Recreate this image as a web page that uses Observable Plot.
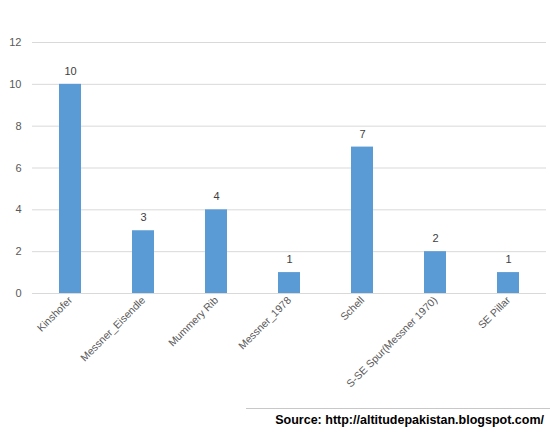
<!DOCTYPE html>
<html><head><meta charset="utf-8">
<script src="https://cdn.jsdelivr.net/npm/d3@7"></script>
<script src="https://cdn.jsdelivr.net/npm/@observablehq/plot@0.6"></script>
<style>
body{margin:0;background:#fff;font-family:"Liberation Sans",Arial,sans-serif;}
#src{position:absolute;left:246px;top:408px;width:304px;border-top:1px solid #c8c8c8;}
#src span{position:absolute;right:6px;top:4px;font-weight:bold;font-size:12.5px;color:#000;white-space:nowrap;}
</style></head>
<body>
<div id="chart"></div>
<div id="src"><span>Source: http://altitudepakistan.blogspot.com/</span></div>
<script>
const routes = ["Kinshofer","Messner_Eisendle","Mummery Rib","Messner_1978","Schell","S-SE Spur(Messner 1970)","SE Pillar"];
const counts = [10,3,4,1,7,2,1];
const yTicks = [0,2,4,6,8,10,12];
const data = routes.map((r,i)=>({route:r,count:counts[i]}));
const chart = Plot.plot({
  width:550, height:400,
  marginLeft:32, marginRight:4, marginTop:42, marginBottom:107,
  style:{fontFamily:"'Liberation Sans',Arial,sans-serif", fontSize:"10px", color:"#595959"},
  x:{domain:routes, paddingInner:0.7, paddingOuter:0.35, label:null},
  y:{domain:[0,12], label:null},
  marks:[
    Plot.gridY(yTicks,{stroke:"#d9d9d9", strokeOpacity:1}),
    Plot.axisY(yTicks,{tickSize:0, tickPadding:11, fontSize:11, fill:"#595959"}),
    Plot.axisX({tickSize:0, tickRotate:-45, tickPadding:5, fontSize:10.5, fill:"#595959"}),
    Plot.barY(data,{x:"route", y:"count", fill:"#5b9bd5"}),
    Plot.text(data,{x:"route", y:"count", text:d=>String(d.count), dy:-13, fontSize:11, fill:"#404040"})
  ]
});
document.getElementById("chart").appendChild(chart);
</script>
</body></html>
